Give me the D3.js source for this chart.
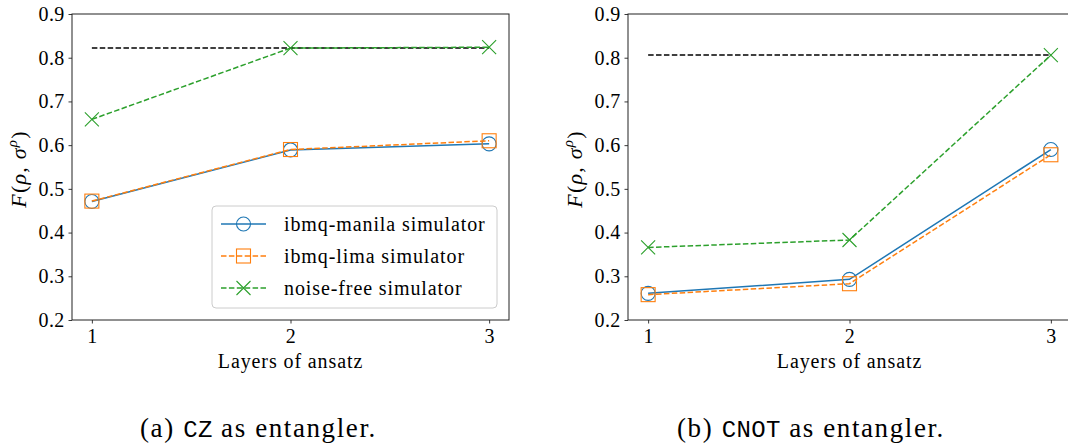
<!DOCTYPE html>
<html>
<head>
<meta charset="utf-8">
<script src="https://cdn.jsdelivr.net/npm/d3@7"></script>
<style>
  html, body { margin: 0; padding: 0; background: #fff; }
</style>
</head>
<body>
<svg id="chart" width="1068" height="448"></svg>
<script>
// ---- data ----
const layers = [1, 2, 3];
const yTickValues = [0.2, 0.3, 0.4, 0.5, 0.6, 0.7, 0.8, 0.9];
const seriesNames = ["ibmq-manila simulator", "ibmq-lima simulator", "noise-free simulator"];

const czManila = [0.471, 0.589, 0.603];
const czLima = [0.472, 0.590, 0.610];
const czNoiseFree = [0.659, 0.822, 0.824];
const czReference = 0.822;

const cnotManila = [0.261, 0.293, 0.590];
const cnotLima = [0.258, 0.283, 0.578];
const cnotNoiseFree = [0.366, 0.383, 0.806];
const cnotReference = 0.806;

// ---- styles ----
const SERIF = "Liberation Serif, Times New Roman, serif";
const MONO = "Liberation Mono, DejaVu Sans Mono, monospace";
const colors = ["#1f77b4", "#ff7f0e", "#2ca02c"];
const dashes = [null, "5.5,2.4", "5.5,2.4"];
const markers = ["circle", "square", "x"];

const svg = d3.select("#chart").attr("font-family", SERIF);

function serif(sel, size, spacing) {
  sel.attr("font-family", SERIF).style("font-family", SERIF)
    .attr("font-size", size).style("font-size", size + "px");
  if (spacing) sel.style("letter-spacing", spacing + "px");
  return sel;
}

function drawMarker(g, type, x, y, color) {
  const s = 7;
  if (type === "circle") {
    g.append("circle").attr("cx", x).attr("cy", y).attr("r", s)
      .attr("fill", "none").attr("stroke", color).attr("stroke-width", 1.1);
  } else if (type === "square") {
    g.append("rect").attr("x", x - s).attr("y", y - s).attr("width", 2 * s).attr("height", 2 * s)
      .attr("fill", "none").attr("stroke", color).attr("stroke-width", 1.1);
  } else {
    g.append("path").attr("d", `M${x - s},${y - s}L${x + s},${y + s}M${x - s},${y + s}L${x + s},${y - s}`)
      .attr("fill", "none").attr("stroke", color).attr("stroke-width", 1.1);
  }
}

function panel(opts) {
  const { left, right, top, bottom, series, reference, yLabelX, legend } = opts;
  const x = d3.scaleLinear().domain([0.9, 3.1]).range([left, right]);
  const y = d3.scaleLinear().domain([0.2, 0.9]).range([bottom, top]);
  const g = svg.append("g");

  // axes
  const xAxis = d3.axisBottom(x).tickValues(layers).tickFormat(d3.format("d")).tickSize(3.5).tickPadding(4);
  const gx = g.append("g").attr("transform", `translate(0,${bottom})`).call(xAxis);
  const yAxis = d3.axisLeft(y).tickValues(yTickValues).tickFormat(d3.format(".1f")).tickSize(3.5).tickPadding(4);
  const gy = g.append("g").attr("transform", `translate(${left},0)`).call(yAxis);
  [gx, gy].forEach(a => {
    a.attr("font-family", SERIF).attr("font-size", 20);
    serif(a.selectAll("text"), 20, 0.3).attr("fill", "#000");
    a.selectAll("line").attr("stroke", "#222").attr("stroke-width", 0.9);
    a.select(".domain").remove();
  });
  gx.selectAll("text").attr("dy", "0.78em");
  // spines
  g.append("rect").attr("x", left).attr("y", top).attr("width", right - left).attr("height", bottom - top)
    .attr("fill", "none").attr("stroke", "#222").attr("stroke-width", 1);

  // reference line
  g.append("line").attr("x1", x(layers[0])).attr("x2", x(layers[layers.length - 1]))
    .attr("y1", y(reference)).attr("y2", y(reference))
    .attr("stroke", "#000").attr("stroke-width", 1.5).attr("stroke-dasharray", "5.5,2.4");

  // series
  const line = d3.line().x((d, i) => x(layers[i])).y(d => y(d));
  series.forEach((vals, si) => {
    g.append("path").attr("d", line(vals)).attr("fill", "none")
      .attr("stroke", colors[si]).attr("stroke-width", 1.5)
      .attr("stroke-dasharray", dashes[si]);
    vals.forEach((v, i) => drawMarker(g, markers[si], x(layers[i]), y(v), colors[si]));
  });

  // labels
  serif(g.append("text"), 20, 0.9).attr("x", x(2)).attr("y", bottom + 48).attr("text-anchor", "middle")
    .attr("fill", "#000").text("Layers of ansatz");

  const yl = serif(g.append("text"), 22, 1.2).attr("transform", `translate(${yLabelX},${(top + bottom) / 2 + 2}) rotate(-90)`)
    .attr("text-anchor", "middle").attr("fill", "#000");
  yl.append("tspan").style("font-style", "italic").text("F");
  yl.append("tspan").text("(");
  yl.append("tspan").style("font-style", "italic").text("ρ");
  yl.append("tspan").text(", ");
  yl.append("tspan").style("font-style", "italic").text("σ");
  yl.append("tspan").style("font-style", "italic").style("font-size", "15px").attr("dy", "-9").text("ρ");
  yl.append("tspan").attr("dy", "9").text(")");

  if (legend) {
    const lg = g.append("g");
    lg.append("rect").attr("x", 212).attr("y", 206).attr("width", 285).attr("height", 102)
      .attr("rx", 4).attr("fill", "#fff").attr("fill-opacity", 0.8)
      .attr("stroke", "#cccccc").attr("stroke-width", 1);
    seriesNames.forEach((name, si) => {
      const cy = 224 + si * 32;
      lg.append("line").attr("x1", 221).attr("x2", 266).attr("y1", cy).attr("y2", cy)
        .attr("stroke", colors[si]).attr("stroke-width", 1.5).attr("stroke-dasharray", dashes[si]);
      drawMarker(lg, markers[si], 243.5, cy, colors[si]);
      serif(lg.append("text"), 20, 0.9).attr("x", 284).attr("y", cy).attr("dy", "0.33em")
        .attr("fill", "#000").text(name);
    });
  }
}

panel({ left: 72, right: 509, top: 14, bottom: 320,
  series: [czManila, czLima, czNoiseFree], reference: czReference, yLabelX: 26, legend: true });
panel({ left: 628, right: 1071, top: 14, bottom: 320,
  series: [cnotManila, cnotLima, cnotNoiseFree], reference: cnotReference, yLabelX: 582, legend: false });

// captions
function caption(xPos, label, code) {
  const t = serif(svg.append("text"), 27, 1.6).attr("x", xPos).attr("y", 437).attr("fill", "#000");
  t.append("tspan").text(label + " ");
  t.append("tspan").attr("font-family", MONO).style("font-family", MONO)
    .style("font-size", "24px").style("letter-spacing", "0.4px").text(code);
  t.append("tspan").text(" as entangler.");
}
caption(140, "(a)", "CZ");
caption(677, "(b)", "CNOT");
</script>
</body>
</html>
